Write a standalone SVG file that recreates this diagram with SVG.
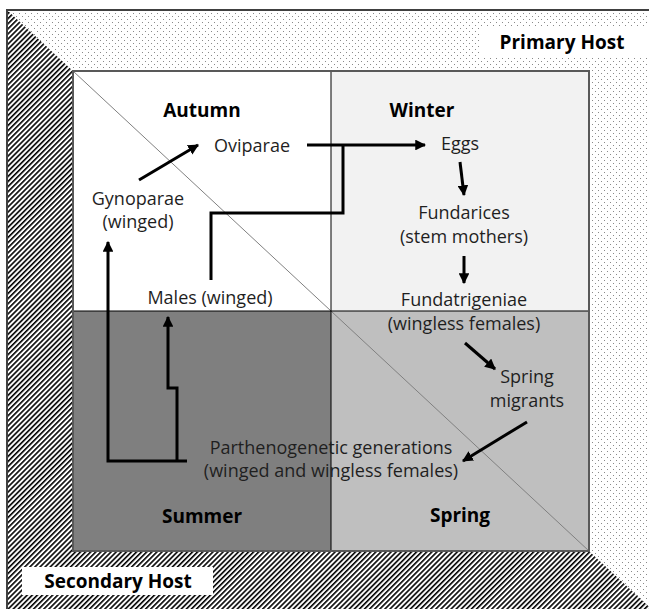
<svg xmlns="http://www.w3.org/2000/svg" width="649" height="609" viewBox="0 0 649 609">
<defs>
<pattern id="dots" width="6" height="6" patternUnits="userSpaceOnUse">
<rect width="6" height="6" fill="#fff"/>
<rect x="1" y="1" width="1" height="1" fill="#8a8a8a"/>
<rect x="4" y="4" width="1" height="1" fill="#8a8a8a"/>
</pattern>
<pattern id="hatch" width="3.6" height="10" patternUnits="userSpaceOnUse" patternTransform="rotate(45)">
<rect width="3.6" height="10" fill="#fff"/>
<rect width="1.6" height="10" fill="#000"/>
</pattern>
<marker id="ah" viewBox="0 0 10 10" refX="9" refY="5" markerWidth="3.6" markerHeight="3.6" orient="auto" markerUnits="strokeWidth">
<path d="M0,0 L10,5 L0,10 z" fill="#000"/>
</marker>
<style>
.t{font-family:"Open Sans","Liberation Sans",sans-serif;font-size:18px;fill:#1f1f1f;text-anchor:middle}
.b{font-family:"Open Sans","Liberation Sans",sans-serif;font-size:19px;font-weight:bold;fill:#000;text-anchor:middle}
.c{fill:none;stroke:#000;stroke-width:3}
</style>
</defs>
<g id="background">
<rect x="7" y="10" width="660" height="620" fill="url(#dots)"/>
<polygon points="7,10 73,71 589,551 660,617 660,630 7,630" fill="url(#hatch)"/>
<path d="M7,630 V10 H660" fill="none" stroke="#404040" stroke-width="2"/>
</g>
<g id="quadrants">
<rect x="73" y="71" width="258" height="240" fill="#fff"/>
<rect x="331" y="71" width="258" height="240" fill="#f2f2f2"/>
<rect x="73" y="311" width="258" height="240" fill="#7f7f7f"/>
<rect x="331" y="311" width="258" height="240" fill="#bfbfbf"/>
<line x1="73" y1="71" x2="589" y2="551" stroke="#808080" stroke-width="1"/>
<line x1="331" y1="71" x2="331" y2="551" stroke="#000" stroke-width="1"/>
<line x1="73" y1="311" x2="589" y2="311" stroke="#000" stroke-width="1"/>
<rect x="73" y="71" width="516" height="480" fill="none" stroke="#595959" stroke-width="2"/>
</g>
<g id="primary-host">
<rect x="480" y="27" width="175" height="31" fill="#fff"/>
<text class="b" x="562" y="49">Primary Host</text>
</g>
<g id="secondary-host">
<rect x="22" y="567" width="191" height="28" fill="#fff"/>
<text class="b" x="118" y="588">Secondary Host</text>
</g>
<g id="autumn"><text class="b" x="202" y="117">Autumn</text></g>
<g id="winter"><text class="b" x="422" y="117">Winter</text></g>
<g id="summer"><text class="b" x="202" y="523">Summer</text></g>
<g id="spring"><text class="b" x="460" y="522">Spring</text></g>
<g id="oviparae"><text class="t" x="252" y="152">Oviparae</text></g>
<g id="gynoparae"><text class="t" x="138" y="205">Gynoparae</text><text class="t" x="138" y="228">(winged)</text></g>
<g id="males"><text class="t" x="210" y="304">Males (winged)</text></g>
<g id="eggs"><text class="t" x="460" y="150">Eggs</text></g>
<g id="fundarices"><text class="t" x="464" y="219">Fundarices</text><text class="t" x="464" y="243">(stem mothers)</text></g>
<g id="fundatrigeniae"><text class="t" x="464" y="306">Fundatrigeniae</text><text class="t" x="464" y="330">(wingless females)</text></g>
<g id="spring-migrants"><text class="t" x="527" y="383">Spring</text><text class="t" x="527" y="407">migrants</text></g>
<g id="parthenogenetic"><text class="t" x="331" y="454">Parthenogenetic generations</text><text class="t" x="331" y="477">(winged and wingless females)</text></g>
<g id="connectors">
<path class="c" d="M139,180 L198,145" marker-end="url(#ah)"/>
<path class="c" d="M307,145 L425,145" marker-end="url(#ah)"/>
<path class="c" d="M211,280 V213 H343 V145"/>
<path class="c" d="M460,162 L464,195" marker-end="url(#ah)"/>
<path class="c" d="M464,256 L464,283" marker-end="url(#ah)"/>
<path class="c" d="M465,343 L495,369" marker-end="url(#ah)"/>
<path class="c" d="M527,422 L463,461" marker-end="url(#ah)"/>
<path class="c" d="M187,461 H108 V242" marker-end="url(#ah)"/>
<path class="c" d="M177,461 V388 H168 V317" marker-end="url(#ah)"/>
</g>
</svg>
